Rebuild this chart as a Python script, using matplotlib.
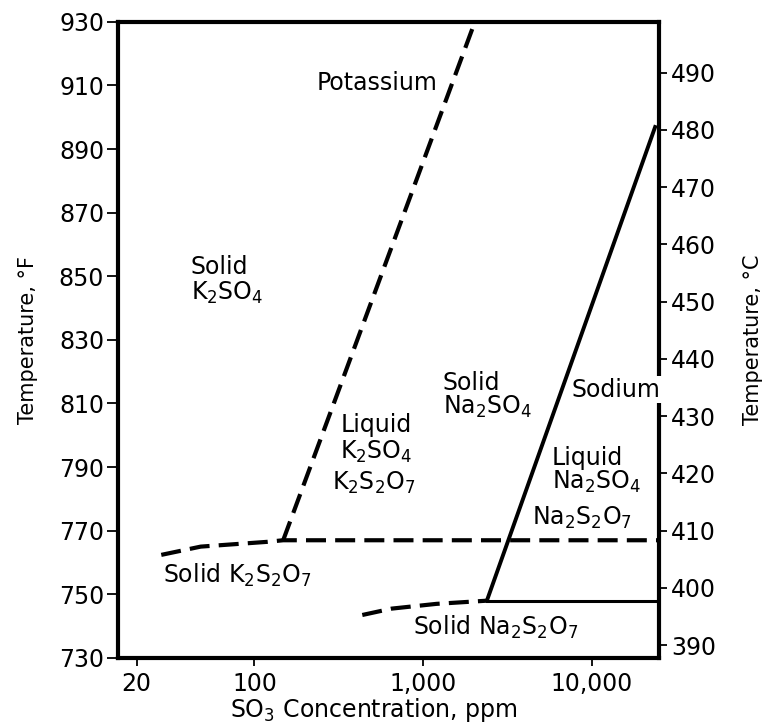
import matplotlib
matplotlib.use("Agg")
import matplotlib.pyplot as plt
from matplotlib.ticker import FixedLocator, NullLocator

plt.rcParams['font.family'] = ['DejaVu Sans']
plt.rcParams['mathtext.fontset'] = 'dejavusans'
plt.rcParams['mathtext.default'] = 'regular'

# ---- data (SO3 ppm, temperature degF) ----
k_liquidus_x = [148, 2030]
k_liquidus_y = [767, 930]
k_solidus_x = [28, 48, 119, 148, 25000]
k_solidus_y = [762.4, 765.0, 766.5, 767, 767]

na_liquidus_x = [2390, 24000]
na_liquidus_y = [748, 897.5]
na_solid_x = [2390, 25000]
na_solid_y = [748, 748]
na_dashed_x = [436, 650, 1200, 2390]
na_dashed_y = [743.5, 745.5, 747.0, 748]

x_ticks = [20, 100, 1000, 10000]
x_ticklabels = ['20', '100', '1,000', '10,000']
yF_ticks = list(range(730, 931, 20))
yC_ticks = list(range(390, 491, 10))

fig = plt.figure(figsize=(7.66, 7.27), dpi=100)
ax = fig.add_axes([0.154, 0.095, 0.706, 0.875])

dash = (0, (4.8, 2.2))
ax.plot(k_liquidus_x, k_liquidus_y, color='black', lw=3, linestyle=dash, solid_capstyle='butt')
ax.plot(k_solidus_x, k_solidus_y, color='black', lw=3, linestyle=dash)
ax.plot(na_liquidus_x, na_liquidus_y, color='black', lw=2.8, solid_capstyle='butt')
ax.plot(na_solid_x, na_solid_y, color='black', lw=2.2)
ax.plot(na_dashed_x, na_dashed_y, color='black', lw=3, linestyle=dash)

ax.set_xscale('log')
ax.set_xlim(15.5, 25000)
ax.set_ylim(730, 930)
ax.xaxis.set_major_locator(FixedLocator(x_ticks))
ax.set_xticklabels(x_ticklabels)
ax.xaxis.set_minor_locator(NullLocator())
ax.set_yticks(yF_ticks)

fs = 17
ax.tick_params(axis='both', labelsize=fs, direction='out', width=1.3, color='black')
ax.tick_params(axis='y', length=8, pad=2)
ax.tick_params(axis='x', length=6, pad=4)
for s in ax.spines.values():
    s.set_linewidth(3)

ax.set_xlabel(r'SO$_3$ Concentration, ppm', fontsize=fs, labelpad=2)
ax.xaxis.set_label_coords(0.473, -0.06)
ax.set_ylabel('Temperature, °F', fontsize=15, labelpad=15)

sec = ax.secondary_yaxis('right', functions=(lambda f: (f - 32) / 1.8, lambda c: c * 1.8 + 32))
sec.set_yticks(yC_ticks)
sec.tick_params(labelsize=fs, direction='out', length=6, width=1.3, pad=3)
sec.spines['right'].set_visible(False)
sec.set_ylabel('Temperature, °C', fontsize=15, labelpad=19)

tk = dict(fontsize=fs, color='black')
ax.text(535, 910.8, 'Potassium', ha='center', va='center', **tk)
ax.text(41.8, 853.0, 'Solid', ha='left', va='center', **tk)
ax.text(41.8, 844.8, r'K$_2$SO$_4$', ha='left', va='center', **tk)
ax.text(323, 803.3, 'Liquid', ha='left', va='center', **tk)
ax.text(323, 794.8, r'K$_2$SO$_4$', ha='left', va='center', **tk)
ax.text(289, 785.0, r'K$_2$S$_2$O$_7$', ha='left', va='center', **tk)
ax.text(1312, 816.5, 'Solid', ha='left', va='center', **tk)
ax.text(1312, 808.9, r'Na$_2$SO$_4$', ha='left', va='center', **tk)
ax.text(7620, 814.3, 'Sodium', ha='left', va='center', zorder=5, clip_on=False,
        bbox=dict(facecolor='white', edgecolor='none', pad=1), **tk)
ax.text(5800, 792.9, 'Liquid', ha='left', va='center', **tk)
ax.text(5800, 785.3, r'Na$_2$SO$_4$', ha='left', va='center', **tk)
ax.text(4415, 774.0, r'Na$_2$S$_2$O$_7$', ha='left', va='center', **tk)
ax.text(873, 739.7, r'Solid Na$_2$S$_2$O$_7$', ha='left', va='center', **tk)
ax.text(28.6, 756.1, r'Solid K$_2$S$_2$O$_7$', ha='left', va='center', **tk)

fig.savefig('out.png', dpi=100)
